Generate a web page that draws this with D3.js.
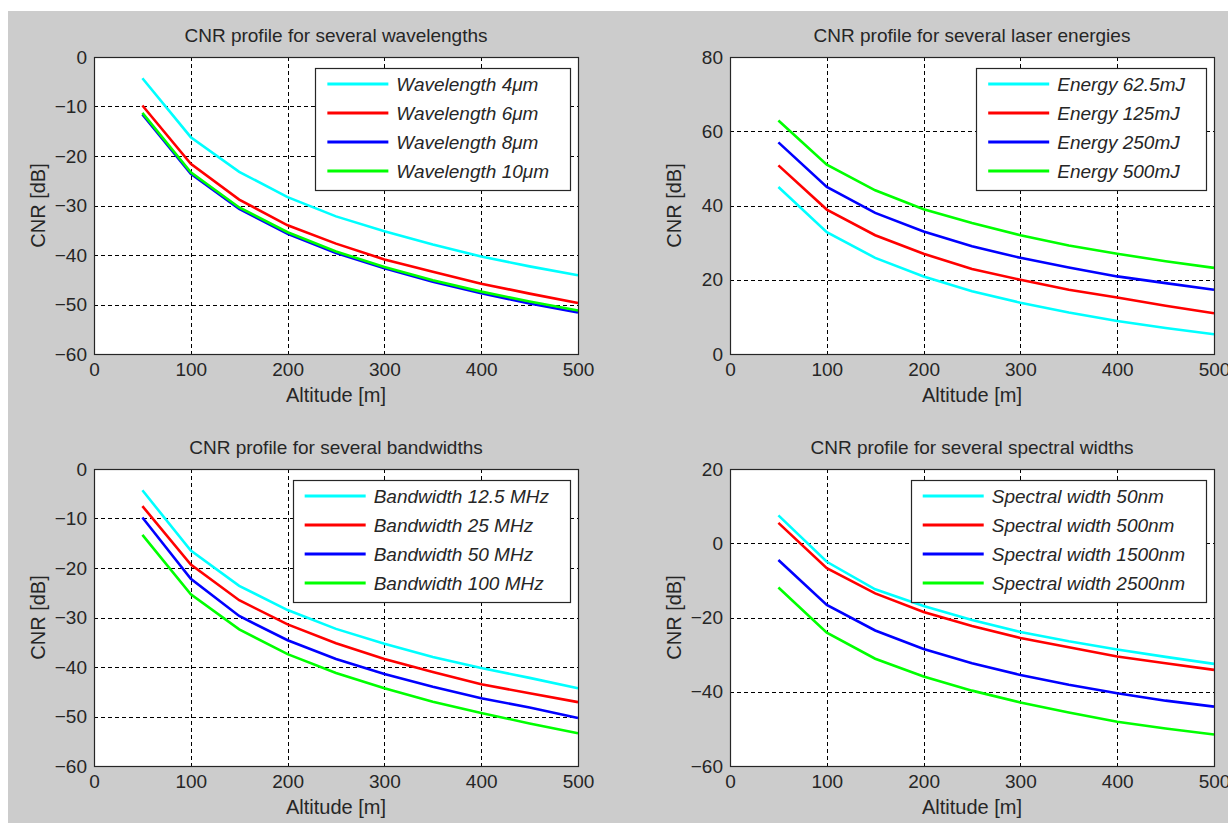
<!DOCTYPE html>
<html>
<head>
<meta charset="utf-8">
<script src="https://cdn.jsdelivr.net/npm/d3@7"></script>
<style>
  body { margin: 0; background: #ffffff; }
  text { font-family: "Liberation Sans", Arial, sans-serif; fill: #262626; }
</style>
</head>
<body>
<script>
// altitude samples shared by every profile
var altitude = [50, 100, 150, 200, 250, 300, 350, 400, 450, 500];
var xTicks = [0, 100, 200, 300, 400, 500];
var lineColors = ["#00ffff", "#ff0000", "#0000ff", "#00ff00"];

// wavelengths
var wavelengthNames = ["Wavelength 4\u03bcm", "Wavelength 6\u03bcm", "Wavelength 8\u03bcm", "Wavelength 10\u03bcm"];
var cnrWl4 = [-4.3, -16.2, -23.2, -28.3, -32.2, -35.2, -37.9, -40.3, -42.3, -44.1];
var cnrWl6 = [-9.8, -21.6, -28.8, -34.0, -37.7, -40.9, -43.4, -45.8, -47.8, -49.7];
var cnrWl8 = [-11.6, -23.6, -30.7, -35.7, -39.6, -42.7, -45.4, -47.7, -49.8, -51.6];
var cnrWl10 = [-11.3, -23.3, -30.4, -35.4, -39.3, -42.4, -45.1, -47.4, -49.4, -51.2];
var wavelengthTicks = [-60, -50, -40, -30, -20, -10, 0];

// laser energies
var energyNames = ["Energy 62.5mJ", "Energy 125mJ", "Energy 250mJ", "Energy 500mJ"];
var cnrE62 = [45.0, 32.8, 25.9, 20.9, 16.9, 13.8, 11.2, 8.9, 7.0, 5.3];
var cnrE125 = [50.8, 38.9, 32.0, 27.0, 22.9, 20.0, 17.3, 15.2, 13.0, 11.0];
var cnrE250 = [57.0, 45.0, 38.0, 33.0, 29.0, 25.9, 23.3, 20.9, 19.1, 17.3];
var cnrE500 = [62.9, 51.0, 44.1, 39.0, 35.3, 32.0, 29.2, 27.0, 25.0, 23.2];
var energyTicks = [0, 20, 40, 60, 80];

// receiver bandwidths
var bandwidthNames = ["Bandwidth 12.5 MHz", "Bandwidth 25 MHz", "Bandwidth 50 MHz", "Bandwidth 100 MHz"];
var cnrB12 = [-4.3, -16.5, -23.6, -28.5, -32.3, -35.3, -38.0, -40.2, -42.2, -44.3];
var cnrB25 = [-7.5, -19.3, -26.5, -31.4, -35.2, -38.4, -41.0, -43.5, -45.3, -47.1];
var cnrB50 = [-9.8, -22.2, -29.7, -34.6, -38.4, -41.4, -44.0, -46.3, -48.2, -50.3];
var cnrB100 = [-13.3, -25.3, -32.4, -37.4, -41.2, -44.3, -47.0, -49.3, -51.4, -53.4];
var bandwidthTicks = [-60, -50, -40, -30, -20, -10, 0];

// spectral widths
var spectralNames = ["Spectral width 50nm", "Spectral width 500nm", "Spectral width 1500nm", "Spectral width 2500nm"];
var cnrS50 = [7.5, -5.0, -12.4, -16.9, -20.7, -23.9, -26.4, -28.6, -30.6, -32.5];
var cnrS500 = [5.5, -6.7, -13.5, -18.5, -22.3, -25.5, -28.0, -30.5, -32.3, -34.1];
var cnrS1500 = [-4.5, -16.6, -23.5, -28.5, -32.3, -35.5, -38.1, -40.4, -42.4, -44.0];
var cnrS2500 = [-11.9, -24.1, -31.1, -35.9, -39.7, -42.9, -45.6, -48.1, -49.9, -51.5];
var spectralTicks = [-60, -40, -20, 0, 20];

var W = 484, H = 297;

var panels = [
	{title: "CNR profile for several wavelengths", left: 94, top: 57,
	 names: wavelengthNames, series: [cnrWl4, cnrWl6, cnrWl8, cnrWl10], yTicks: wavelengthTicks},
	{title: "CNR profile for several laser energies", left: 730, top: 57,
	 names: energyNames, series: [cnrE62, cnrE125, cnrE250, cnrE500], yTicks: energyTicks},
	{title: "CNR profile for several bandwidths", left: 94, top: 469,
	 names: bandwidthNames, series: [cnrB12, cnrB25, cnrB50, cnrB100], yTicks: bandwidthTicks},
	{title: "CNR profile for several spectral widths", left: 730, top: 469,
	 names: spectralNames, series: [cnrS50, cnrS500, cnrS1500, cnrS2500], yTicks: spectralTicks}
];

var svg = d3.select("body").append("svg")
	.attr("width", 1228)
	.attr("height", 823);

// figure background
svg.append("rect").attr("x", 8).attr("y", 11)
	.attr("width", 1220).attr("height", 812)
	.attr("fill", "#cccccc");

var drawPanel = function(p)
{
	var g = svg.append("g").attr("transform", "translate(" + p.left + "," + p.top + ")");
	var x = d3.scaleLinear().domain([0, 500]).range([0, W]);
	var y = d3.scaleLinear().domain(d3.extent(p.yTicks)).range([H, 0]);

	g.append("rect").attr("width", W).attr("height", H).attr("fill", "#ffffff");

	// dashed grid
	g.selectAll(".gx").data(xTicks.slice(1, -1)).enter().append("line")
		.attr("x1", function(d){ return Math.round(x(d)) + 0.5; })
		.attr("x2", function(d){ return Math.round(x(d)) + 0.5; })
		.attr("y1", 0).attr("y2", H)
		.attr("stroke", "#000").attr("stroke-width", 1)
		.attr("stroke-dasharray", "4,3");
	g.selectAll(".gy").data(p.yTicks.slice(1, -1)).enter().append("line")
		.attr("x1", 0).attr("x2", W)
		.attr("y1", function(d){ return Math.round(y(d)) + 0.5; })
		.attr("y2", function(d){ return Math.round(y(d)) + 0.5; })
		.attr("stroke", "#000").attr("stroke-width", 1)
		.attr("stroke-dasharray", "4,3");

	var xAxis = g.append("g").attr("transform", "translate(0," + H + ")")
		.call(d3.axisBottom(x).tickValues(xTicks).tickSize(0).tickPadding(9));
	var yAxis = g.append("g")
		.call(d3.axisLeft(y).tickValues(p.yTicks).tickSize(0).tickPadding(7));
	[xAxis, yAxis].forEach(function(a)
	{
		a.select(".domain").remove();
		a.attr("font-size", 19).attr("font-family", null);
		a.selectAll("text").attr("fill", "#262626");
	});

	// profiles
	var line = d3.line()
		.x(function(d, i){ return x(altitude[i]); })
		.y(function(d){ return y(d); });
	for(var i = 0; i < p.series.length; i++)
	{
		g.append("path").datum(p.series[i])
			.attr("d", line)
			.attr("fill", "none")
			.attr("stroke", lineColors[i])
			.attr("stroke-width", 2.6);
	}

	g.append("rect").attr("x", 0.5).attr("y", 0.5)
		.attr("width", W).attr("height", H)
		.attr("fill", "none").attr("stroke", "#262626").attr("stroke-width", 1.2);

	// legend box, sized from its longest label
	var leg = g.append("g");
	var labels = leg.selectAll("text").data(p.names).enter().append("text")
		.attr("font-size", 19).attr("font-style", "italic")
		.attr("y", function(d, i){ return 27 + 7 + i * 29; })
		.text(function(d){ return d; });
	var textW = d3.max(labels.nodes(), function(n){ return n.getComputedTextLength(); });
	var boxRight = W - 8, boxLeft = boxRight - (textW + 21 + 81);
	labels.attr("x", boxLeft + 81);
	leg.insert("rect", "text")
		.attr("x", Math.round(boxLeft) + 0.5).attr("y", 11.5)
		.attr("width", Math.round(boxRight - boxLeft)).attr("height", 122)
		.attr("fill", "#ffffff").attr("stroke", "#262626").attr("stroke-width", 1.2);
	leg.selectAll("line").data(p.names).enter().append("line")
		.attr("x1", boxLeft + 12).attr("x2", boxLeft + 73)
		.attr("y1", function(d, i){ return 27 + i * 29; })
		.attr("y2", function(d, i){ return 27 + i * 29; })
		.attr("stroke", function(d, i){ return lineColors[i]; })
		.attr("stroke-width", 3);

	g.append("text").attr("x", W / 2).attr("y", -15.5)
		.attr("text-anchor", "middle").attr("font-size", 19)
		.text(p.title);
	g.append("text").attr("x", W / 2).attr("y", H + 48)
		.attr("text-anchor", "middle").attr("font-size", 20)
		.text("Altitude [m]");
	g.append("text")
		.attr("transform", "translate(-49.5," + (H / 2) + ") rotate(-90)")
		.attr("text-anchor", "middle").attr("font-size", 20)
		.text("CNR [dB]");
};

panels.forEach(drawPanel);
</script>
</body>
</html>
